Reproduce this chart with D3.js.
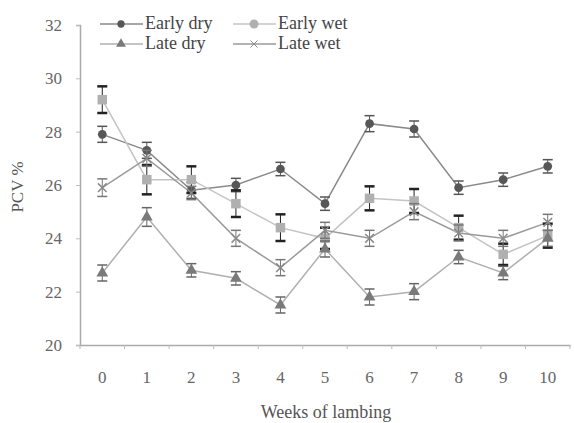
<!DOCTYPE html>
<meta charset="utf-8">
<style>
body { margin: 0; background: #fff; }
.tick text { font: 17px "Liberation Serif", "Times New Roman", serif; fill: #666; }
.legend text { font: 18px "Liberation Serif", "Times New Roman", serif; fill: #444; }
.title { font: 17px "Liberation Serif", "Times New Roman", serif; fill: #555; }
</style>
<svg width="574" height="423"></svg>
<script src="https://d3js.org/d3.v7.min.js"></script>
<script>
var weeks = [0, 1, 2, 3, 4, 5, 6, 7, 8, 9, 10];
var yTicks = [20, 22, 24, 26, 28, 30, 32];

var earlyDry = [27.9, 27.3, 25.8, 26.0, 26.6, 25.3, 28.3, 28.1, 25.9, 26.2, 26.7];
var earlyWet = [29.2, 26.2, 26.2, 25.3, 24.4, 24.0, 25.5, 25.4, 24.4, 23.4, 24.1];
var lateDry  = [22.7, 24.8, 22.8, 22.5, 21.5, 23.6, 21.8, 22.0, 23.3, 22.7, 24.0];
var lateWet  = [25.9, 27.0, 25.7, 24.0, 22.9, 24.3, 24.0, 25.0, 24.2, 24.0, 24.6];

var earlyDryErr = [0.3, 0.3, 0.3, 0.25, 0.25, 0.25, 0.3, 0.3, 0.25, 0.25, 0.25];
var earlyWetErr = [0.5, 0.55, 0.5, 0.5, 0.5, 0.4, 0.45, 0.45, 0.45, 0.4, 0.45];
var lateDryErr  = [0.3, 0.35, 0.25, 0.25, 0.3, 0.3, 0.3, 0.3, 0.25, 0.25, 0.3];
var lateWetErr  = [0.33, 0.3, 0.25, 0.3, 0.3, 0.3, 0.3, 0.3, 0.3, 0.3, 0.3];

var series = [
  {name: "Early dry", values: earlyDry, err: earlyDryErr, line: "#8a8a8a", fill: "#575757", err_c: "#555", sym: d3.symbolCircle, size: 60},
  {name: "Early wet", values: earlyWet, err: earlyWetErr, line: "#c4c4c4", fill: "#b0b0b0", err_c: "#222", sym: d3.symbolSquare, size: 90},
  {name: "Late dry",  values: lateDry,  err: lateDryErr,  line: "#b0b0b0", fill: "#7a7a7a", err_c: "#666", sym: d3.symbolTriangle, size: 60},
  {name: "Late wet",  values: lateWet,  err: lateWetErr,  line: "#9a9a9a", fill: "#8a8a8a", err_c: "#777", sym: d3.symbolTimes, size: 50}
];

var svg = d3.select("svg");

var x = d3.scaleBand().domain(weeks).range([80, 570]);
var y = d3.scaleLinear().domain([20, 32]).range([345, 25]);
var cx = function(i) { return x(weeks[i]) + x.bandwidth() / 2; };

// y axis
var ya = svg.append("g")
    .attr("transform", "translate(80,0)")
    .call(d3.axisLeft(y).tickValues(yTicks).tickSize(4).tickPadding(14));
ya.select(".domain").attr("stroke", "#aaa").attr("stroke-width", 1.5);
ya.selectAll(".tick line").attr("stroke", "#bbb");

// x axis
var xa = svg.append("g")
    .attr("transform", "translate(0,345)")
    .call(d3.axisBottom(x).tickSize(0).tickPadding(26));
xa.select(".domain").attr("stroke", "#aaa").attr("stroke-width", 1.5);
xa.selectAll(".xt")
  .data(weeks.concat([11]))
  .enter().append("line")
    .attr("x1", function(d, i) { return 80 + i * x.bandwidth(); })
    .attr("x2", function(d, i) { return 80 + i * x.bandwidth(); })
    .attr("y1", 0).attr("y2", 4)
    .attr("stroke", "#bbb");

// axis titles
svg.append("text").attr("class", "title")
    .attr("transform", "translate(23,187) rotate(-90)")
    .attr("text-anchor", "middle")
    .text("PCV %");
svg.append("text").attr("class", "title")
    .attr("x", 326).attr("y", 418)
    .attr("text-anchor", "middle")
    .style("font-size", "18px")
    .text("Weeks of lambing");

var line = d3.line()
    .x(function(d, i) { return cx(i); })
    .y(function(d) { return y(d); });

// lines
series.forEach(function(s) {
  svg.append("path")
    .datum(s.values)
    .attr("fill", "none")
    .attr("stroke", s.line)
    .attr("stroke-width", 1.5)
    .attr("d", line);
});

// error bars and markers
series.forEach(function(s) {
  var g = svg.append("g");
  var wide = s.name === "Early wet";
  s.values.forEach(function(v, i) {
    var e = s.err[i];
    g.append("line")
      .attr("x1", cx(i)).attr("x2", cx(i))
      .attr("y1", y(v - e)).attr("y2", y(v + e))
      .attr("stroke", s.err_c).attr("stroke-width", 1);
    [v - e, v + e].forEach(function(c) {
      g.append("line")
        .attr("x1", cx(i) - 5).attr("x2", cx(i) + 5)
        .attr("y1", y(c)).attr("y2", y(c))
        .attr("stroke", s.err_c).attr("stroke-width", wide ? 2.5 : 1.5);
    });
  });
  g.selectAll("path")
    .data(s.values)
    .enter().append("path")
      .attr("transform", function(d, i) { return "translate(" + cx(i) + "," + y(d) + ")"; })
      .attr("d", d3.symbol().type(s.sym).size(s.size))
      .attr("fill", s.fill)
      .attr("stroke", s.sym === d3.symbolTimes ? s.fill : "none")
      .attr("stroke-width", 1.5);
});

// legend
var legPos = [[100, 24], [233, 24], [100, 44], [233, 44]];
var leg = svg.append("g").attr("class", "legend");
series.forEach(function(s, i) {
  var p = legPos[i];
  leg.append("line")
    .attr("x1", p[0]).attr("x2", p[0] + 43)
    .attr("y1", p[1]).attr("y2", p[1])
    .attr("stroke", s.line).attr("stroke-width", 1.5);
  leg.append("path")
    .attr("transform", "translate(" + (p[0] + 21) + "," + p[1] + ")")
    .attr("d", d3.symbol().type(i === 1 ? d3.symbolCircle : s.sym).size(s.size * 0.7))
    .attr("fill", s.fill)
    .attr("stroke", s.sym === d3.symbolTimes ? s.fill : "none");
  leg.append("text")
    .attr("x", p[0] + 45).attr("y", p[1] + 5)
    .text(s.name);
});
</script>
